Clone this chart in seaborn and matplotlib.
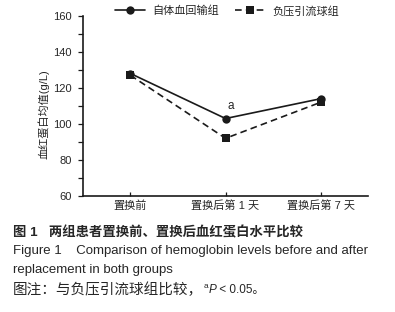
import matplotlib
matplotlib.use("Agg")
import matplotlib.pyplot as plt
import seaborn as sns
import numpy as np
import pandas as pd
from matplotlib.ticker import MultipleLocator

categories = ["置换前", "置换后第 1 天", "置换后第 7 天"]
series_names = ["自体血回输组", "负压引流球组"]
autologous = [128, 103, 114]
drainage = [127, 92, 112]
y_ticks = [60, 80, 100, 120, 140, 160]

sns.set_theme(style="ticks")
plt.rcParams['font.family'] = ['Liberation Sans', 'Noto Sans CJK SC']

df = pd.DataFrame({
    "pos": list(range(len(categories))) * 2,
    "val": autologous + drainage,
    "group": [series_names[0]] * 3 + [series_names[1]] * 3,
})

fig = plt.figure(figsize=(3.95, 3.12), dpi=100)
ax = fig.add_axes([0.210, 0.372, 0.722, 0.577])

sns.lineplot(data=df, x="pos", y="val", style="group", hue="group",
             palette={series_names[0]: "#1a1a1a", series_names[1]: "#1a1a1a"},
             markers={series_names[0]: "o", series_names[1]: "s"},
             dashes={series_names[0]: "", series_names[1]: (4, 2.5)},
             markersize=6, linewidth=1.2, markeredgewidth=0, ax=ax, legend=True)

ax.set_xlim(-0.5, 2.5)
ax.set_ylim(60, 160)
ax.set_yticks(y_ticks)
ax.yaxis.set_minor_locator(MultipleLocator(10))
ax.set_xticks(range(len(categories)))
ax.set_xticklabels(categories, fontsize=8)
ax.tick_params(axis='y', which='major', direction='out', length=3.5, width=0.9, labelsize=8, pad=4.5, color='#1a1a1a')
ax.tick_params(axis='y', which='minor', direction='out', length=3.5, width=0.9, color='#1a1a1a')
ax.tick_params(axis='x', which='major', direction='in', length=3, width=0.9, pad=3, color='#1a1a1a')
ax.set_xlabel("")
ax.set_ylabel("血红蛋白均值(g/L)", fontsize=8, labelpad=4)
ax.yaxis.set_label_coords(-0.118, 0.455)
for s in ["top", "right"]:
    ax.spines[s].set_visible(False)
for s in ["left", "bottom"]:
    ax.spines[s].set_linewidth(1.2)
    ax.spines[s].set_color('#1a1a1a')

ax.text(1.05, 110, "a", fontsize=8.5, ha="center", va="center")

leg = ax.legend(loc="center", bbox_to_anchor=(0.505, 1 + 5/180), ncol=2, frameon=False,
                fontsize=8, handlelength=2.7, columnspacing=1.5, handletextpad=0.6,
                borderaxespad=0, borderpad=0)

fig.text(13/395, 1 - 233/312, "图 1   两组患者置换前、置换后血红蛋白水平比较", fontsize=9.6,
         fontweight="bold", va="center", ha="left")
fig.text(13/395, 1 - 251/312, "Figure 1    Comparison of hemoglobin levels before and after",
         fontsize=9.5, va="center", ha="left")
fig.text(13/395, 1 - 270/312, "replacement in both groups", fontsize=9.5, va="center", ha="left")

# last line in pieces
fig.canvas.draw()
renderer = fig.canvas.get_renderer()
y_last = 1 - 290/312
t1 = fig.text(13/395, y_last, "图注：与负压引流球组比较，", fontsize=10.5, va="center", ha="left")
bb = t1.get_window_extent(renderer)
x = bb.x1 / fig.bbox.width
t2 = fig.text(x, y_last + 4/312, "a", fontsize=6, va="center", ha="left")
bb = t2.get_window_extent(renderer)
x = bb.x1 / fig.bbox.width + 0.5/395
t3 = fig.text(x, y_last, "P", fontsize=8.5, style="italic", va="center", ha="left")
bb = t3.get_window_extent(renderer)
x = bb.x1 / fig.bbox.width
fig.text(x, y_last, " < 0.05。", fontsize=8.5, va="center", ha="left")

fig.savefig("out.png", dpi=100)
